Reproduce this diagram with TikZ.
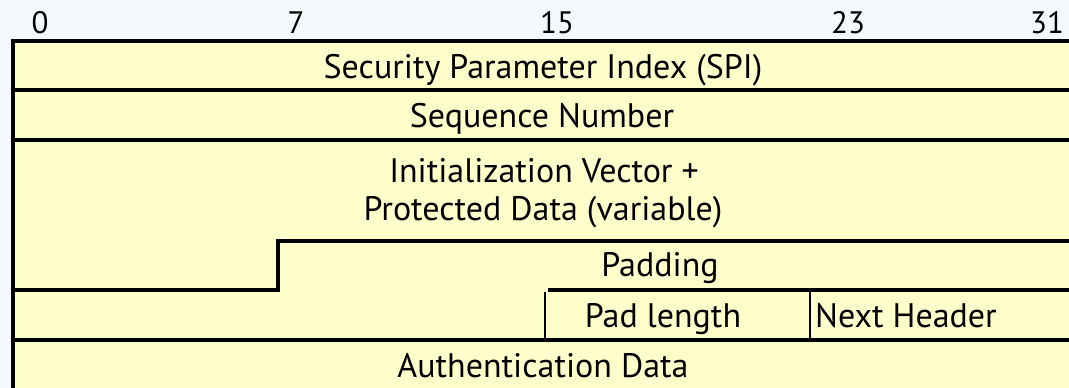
\documentclass[tikz,border=0pt]{standalone}
\usepackage{fontspec}
\setmainfont{PT Sans}
\usepackage{xcolor}
\usetikzlibrary{positioning, calc}
\definecolor{pktfill}{HTML}{FFFFCC}
\definecolor{pagebg}{HTML}{F5F9FD}
\tikzset{
  %% Field label
  fld/.style={
    font=\fontsize{34}{38}\selectfont,
    text=black, inner sep=0pt, anchor=base
  },
  %% Bit number above the fields
  bitno/.style={
    font=\fontsize{31}{35}\selectfont,
    text=black, inner sep=0pt, anchor=base
  },
  %% Field border
  edge/.style={draw=black, line width=3.2pt},
  thinedge/.style={draw=black, line width=2.6pt},
}

\begin{document}
\begin{tikzpicture}[x=1pt, y=-1pt]
  \clip (0,0) rectangle (1069,388);
  \fill[pagebg] (0,0) rectangle (1069,388);

  %% Packet body
  \fill[pktfill] (13,41) rectangle (1080,400);
  \draw[edge] (1080,41) -- (13,41) -- (13,400);
  \draw[edge] (13,90) -- (1080,90);
  \draw[edge] (13,140) -- (1080,140);
  %% Padding step
  \draw[edge] (1080,241) -- (278,241) -- (278,290) -- (13,290);
  \draw[edge] (548,290) -- (1080,290);
  \draw[thinedge] (545,292) -- (545,340);
  \draw[thinedge] (810,290) -- (810,340);
  \draw[edge] (13,340) -- (1080,340);

  %% Bit numbers
  \node[bitno] (b0)  at (40,33)   {0};
  \node[bitno] (b7)  at (296,33)  {7};
  \node[bitno] (b15) at (557,33)  {15};
  \node[bitno] (b23) at (848,33)  {23};
  \node[bitno] (b31) at (1047,33) {31};

  %% Fields
  \node[fld] (spi)  at (543,78)  {Security Parameter Index (SPI)};
  \node[fld] (seq)  at (542,127) {Sequence Number};
  \node[fld] (iv)   at (544,182) {Initialization Vector +};
  \node[fld] (data) at (543,220) {Protected Data (variable)};
  \node[fld] (pad)  at (660,276) {Padding};
  \node[fld] (plen) at (663,327) {Pad length};
  \node[fld] (nxt)  at (906,327) {Next Header};
  \node[fld] (auth) at (543,377) {Authentication Data};
\end{tikzpicture}
\end{document}
